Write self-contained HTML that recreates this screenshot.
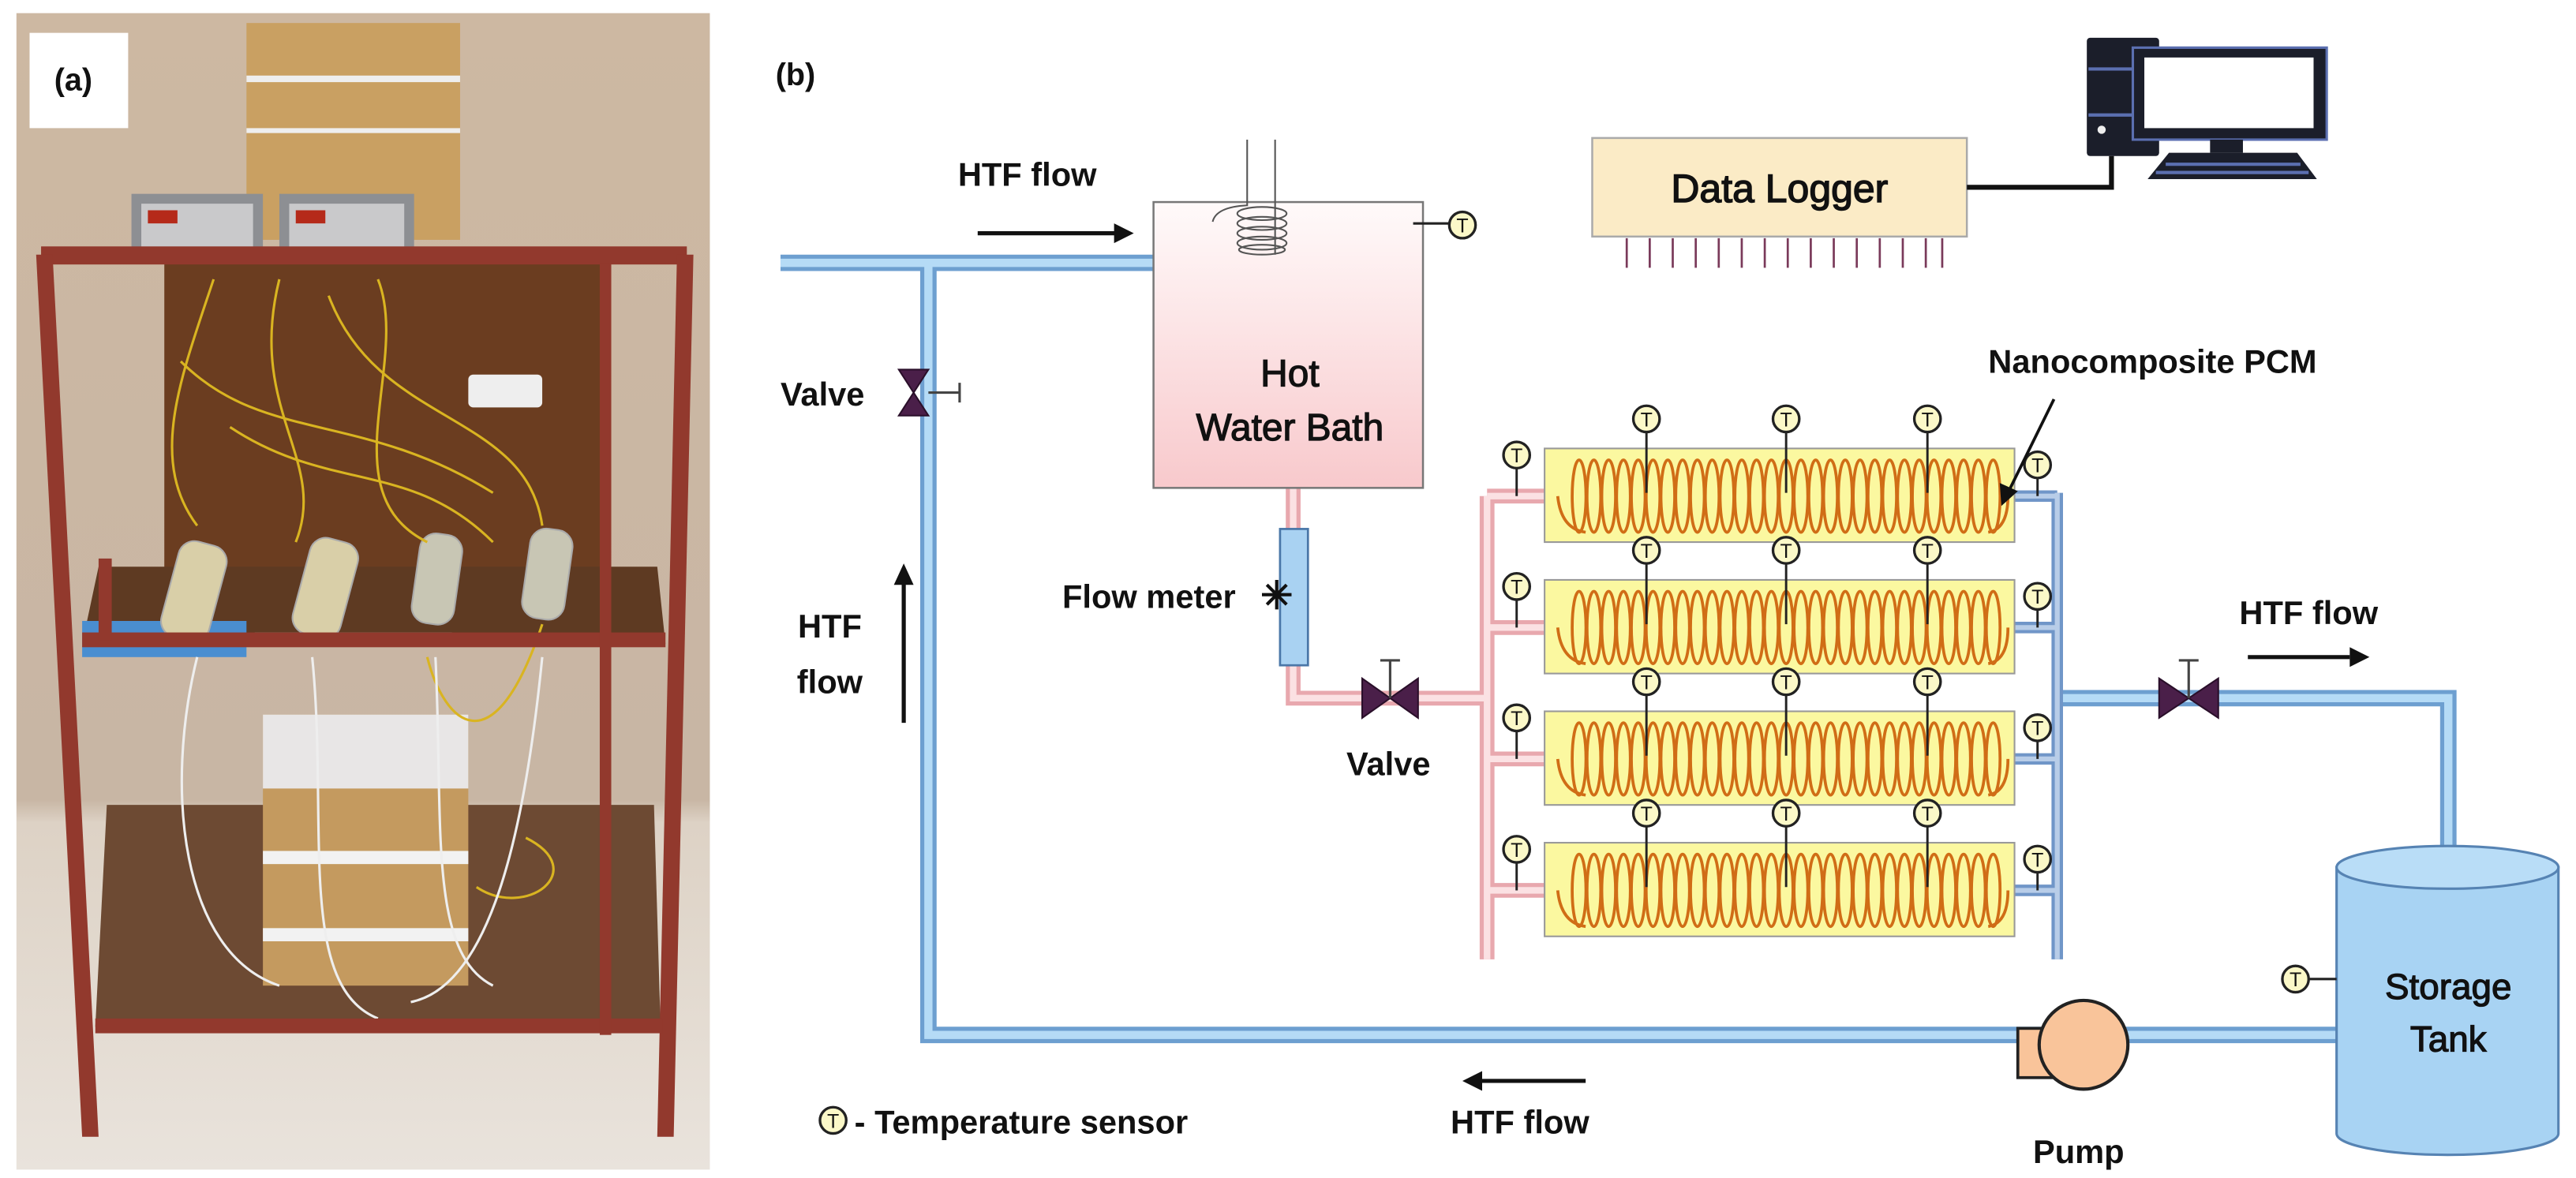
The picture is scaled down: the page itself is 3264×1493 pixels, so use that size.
<!DOCTYPE html>
<html><head><meta charset="utf-8"><style>
html,body{margin:0;padding:0;background:#fff;}
svg{display:block;}
text{font-family:"Liberation Sans",Arial,sans-serif;font-weight:bold;fill:#111;}
</style></head><body>
<svg width="3264" height="1493" viewBox="0 0 1567.7 717.1" preserveAspectRatio="none" xmlns="http://www.w3.org/2000/svg">
<defs>
<linearGradient id="bath" x1="0" y1="0" x2="0" y2="1"><stop offset="0" stop-color="#fffafa"/><stop offset="1" stop-color="#f8c9cc"/></linearGradient>
<linearGradient id="wall" x1="0" y1="0" x2="0" y2="1"><stop offset="0" stop-color="#cdb8a2"/><stop offset="0.68" stop-color="#c8b6a4"/><stop offset="0.7" stop-color="#ddd2c5"/><stop offset="1" stop-color="#e9e3dc"/></linearGradient>
<g id="T"><circle r="8" fill="#fbf8c8" stroke="#222" stroke-width="1.6"/><text x="0" y="4.5" font-size="12" text-anchor="middle" style="font-weight:normal">T</text></g>
</defs>

<!-- PANEL A: photo -->
<rect x="10" y="8" width="422" height="704" fill="url(#wall)"/>
<rect x="100" y="160" width="270" height="190" fill="#6b3d20"/>
<polygon points="60,345 400,345 405,392 50,392" fill="#5e3a22"/>
<polygon points="65,490 398,490 402,625 58,625" fill="#6d4a33"/>
<rect x="150" y="14" width="130" height="132" fill="#c9a062"/>
<rect x="150" y="46" width="130" height="4" fill="#eee"/>
<rect x="150" y="78" width="130" height="3" fill="#eee"/>
<rect x="80" y="118" width="80" height="42" fill="#8d8f93"/><rect x="86" y="124" width="68" height="30" fill="#c9c9cb"/><rect x="90" y="128" width="18" height="8" fill="#b52a1a"/>
<rect x="170" y="118" width="82" height="42" fill="#8d8f93"/><rect x="176" y="124" width="70" height="30" fill="#c9c9cb"/><rect x="180" y="128" width="18" height="8" fill="#b52a1a"/>
<rect x="285" y="228" width="45" height="20" fill="#eee" rx="3"/>
<rect x="160" y="435" width="125" height="165" fill="#c49a5f"/>
<rect x="160" y="435" width="125" height="45" fill="#e8e6e6"/>
<rect x="160" y="518" width="125" height="8" fill="#f2f2f2"/>
<rect x="160" y="565" width="125" height="8" fill="#f2f2f2"/>
<rect x="50" y="378" width="100" height="22" fill="#4a8ed0"/>
<rect x="155" y="385" width="120" height="8" fill="#eee"/>
<g fill="#d9cfa8" stroke="#aaa">
<rect x="103" y="330" width="30" height="60" rx="10" transform="rotate(15 118 360)"/>
<rect x="183" y="328" width="30" height="60" rx="10" transform="rotate(15 198 358)"/>
<rect x="253" y="325" width="26" height="55" rx="10" transform="rotate(8 266 352)" fill="#c8c6b4"/>
<rect x="320" y="322" width="26" height="55" rx="10" transform="rotate(8 333 350)" fill="#c8c6b4"/>
</g>
<g fill="none" stroke="#d9b421" stroke-width="1.5">
<path d="M130 170 C110 230 90 280 120 320"/><path d="M170 170 C150 250 200 280 180 330"/><path d="M230 170 C250 220 200 300 260 330"/>
<path d="M110 220 C160 270 220 250 300 300"/><path d="M200 180 C230 260 320 250 330 320"/><path d="M260 400 C270 440 300 470 330 380"/>
<path d="M140 260 C200 300 250 280 300 330"/><path d="M290 540 C320 560 360 530 320 510"/>
</g>
<g fill="none" stroke="#eee" stroke-width="1.5">
<path d="M120 400 C100 480 110 580 170 600"/><path d="M190 400 C200 500 180 600 230 620"/><path d="M265 400 C270 500 260 580 300 600"/><path d="M330 400 C320 500 300 600 250 610"/>
</g>
<g fill="#92392d">
<rect x="25" y="150" width="393" height="11"/>
<polygon points="22,155 32,155 60,692 50,692"/>
<polygon points="412,155 422,155 410,692 400,692"/>
<rect x="50" y="385" width="355" height="9"/>
<rect x="58" y="620" width="345" height="9"/>
<rect x="60" y="340" width="8" height="50"/><rect x="365" y="160" width="7" height="470"/>
</g>
<rect x="18" y="20" width="60" height="58" fill="#fff"/>
<text x="33" y="55" font-size="19">(a)</text>

<!-- PANEL B -->
<text x="472" y="52" font-size="19">(b)</text>

<g fill="none" stroke-linejoin="miter">
<path d="M475 160 H702 M565 160 V630 H1422 M1252 425 H1490 V518" stroke="#6d9fd0" stroke-width="10"/>
<path d="M475 160 H702 M565 160 V630 H1422 M1252 425 H1490 V518" stroke="#b5dbf6" stroke-width="5"/>
<path d="M1252 300 V584 M1222 302 H1252 M1222 382 H1252 M1222 462 H1252 M1222 542 H1252" stroke="#7096c8" stroke-width="7"/>
<path d="M1252 300 V584 M1222 302 H1252 M1222 382 H1252 M1222 462 H1252 M1222 542 H1252" stroke="#b8cde8" stroke-width="3"/>
<path d="M787 297 V322 M787 405 V425 H905 M905 302 V584 M905 302 H945 M905 382 H945 M905 462 H945 M905 542 H945" stroke="#e8a8ae" stroke-width="9"/>
<path d="M787 297 V322 M787 405 V425 H905 M905 302 V584 M905 302 H945 M905 382 H945 M905 462 H945 M905 542 H945" stroke="#fbe1e3" stroke-width="4"/>
</g>

<g fill="#4a1f49" stroke="#2a0f2a" stroke-width="1">
<polygon points="547,225 565,225 547,253 565,253"/>
<polygon points="829,413 829,437 863,413 863,437"/>
<polygon points="1314,413 1314,437 1350,413 1350,437"/>
</g>
<path d="M565 239 H584 M584 233 V245" stroke="#444" stroke-width="1.5"/>
<path d="M846 425 V402 M840 402 H852" stroke="#444" stroke-width="1.5"/>
<path d="M1332 425 V402 M1326 402 H1338" stroke="#444" stroke-width="1.5"/>

<text x="583" y="113" font-size="20">HTF flow</text>
<path d="M595 142 H680" stroke="#111" stroke-width="2.5"/><polygon points="690,142 678,136 678,148" fill="#111"/>
<text x="475" y="247" font-size="20">Valve</text>
<path d="M550 440 V355" stroke="#111" stroke-width="2.5"/><polygon points="550,343 544,356 556,356" fill="#111"/>
<text x="505" y="388" font-size="20" text-anchor="middle">HTF</text>
<text x="505" y="422" font-size="20" text-anchor="middle">flow</text>

<rect x="702" y="123" width="164" height="174" fill="url(#bath)" stroke="#777" stroke-width="1.2"/>
<g fill="none" stroke="#555" stroke-width="1">
<path d="M759 85 V125 Q740 126 738 135"/>
<path d="M776 85 V155"/>
<ellipse cx="768" cy="130" rx="15" ry="4"/><ellipse cx="768" cy="136" rx="15" ry="4"/><ellipse cx="768" cy="142" rx="15" ry="4"/><ellipse cx="768" cy="148" rx="15" ry="4"/><ellipse cx="768" cy="152" rx="14" ry="3"/>
</g>
<text x="785" y="235" font-size="23" text-anchor="middle" style="font-weight:normal;stroke:#111;stroke-width:0.6">Hot</text>
<text x="785" y="268" font-size="23" text-anchor="middle" style="font-weight:normal;stroke:#111;stroke-width:0.6">Water Bath</text>
<path d="M860 136 H882" stroke="#222" stroke-width="1.5"/><use href="#T" x="890" y="137"/>

<rect x="779" y="322" width="17" height="83" fill="#a9d2f2" stroke="#4a77a8" stroke-width="1.3"/>
<g stroke="#111" stroke-width="2"><path d="M768 362 H786 M777 353 V371 M771 356 L783 368 M783 356 L771 368"/></g>
<text x="752" y="370" font-size="20" text-anchor="end">Flow meter</text>
<text x="845" y="472" font-size="20" text-anchor="middle">Valve</text>

<rect x="969" y="84" width="228" height="60" fill="#fbebc6" stroke="#aaa" stroke-width="1.2"/>
<text x="1083" y="123" font-size="24" text-anchor="middle" style="font-weight:normal;stroke:#111;stroke-width:0.7">Data Logger</text>
<g stroke="#7a3a5a" stroke-width="1.3">
<path d="M990 145V163M1004 145V163M1018 145V163M1032 145V163M1046 145V163M1060 145V163M1074 145V163M1088 145V163M1102 145V163M1116 145V163M1130 145V163M1144 145V163M1158 145V163M1172 145V163M1182 145V163"/>
</g>
<path d="M1197 114 H1285 V95" fill="none" stroke="#111" stroke-width="3"/>
<rect x="1270" y="23" width="44" height="72" fill="#1b1e2a" rx="2"/>
<path d="M1271 42 H1300 M1271 70 H1300" stroke="#5b6fb0" stroke-width="2"/>
<circle cx="1279" cy="79" r="2.5" fill="#eee"/>
<rect x="1298" y="29" width="118" height="56" fill="#1b1e2a" stroke="#5b6fb0" stroke-width="1.5"/>
<rect x="1305" y="35" width="103" height="43" fill="#fff"/>
<rect x="1345" y="85" width="20" height="8" fill="#1b1e2a"/>
<polygon points="1320,93 1398,93 1410,109 1307,109" fill="#1b1e2a"/>
<path d="M1318 100 H1400 M1312 105 H1405" stroke="#5b6fb0" stroke-width="2"/>

<rect x="940" y="273" width="286" height="57" fill="#fbf8a0" stroke="#999" stroke-width="1"/>
<rect x="940" y="353" width="286" height="57" fill="#fbf8a0" stroke="#999" stroke-width="1"/>
<rect x="940" y="433" width="286" height="57" fill="#fbf8a0" stroke="#999" stroke-width="1"/>
<rect x="940" y="513" width="286" height="57" fill="#fbf8a0" stroke="#999" stroke-width="1"/>

<g id="c1" fill="none" stroke="#d06d16" stroke-width="1.8">
<path d="M948 302 Q950 322 965 324 M1210 324 Q1222 322 1222 302"/>
<ellipse cx="961" cy="302" rx="4.2" ry="22"/><ellipse cx="970" cy="302" rx="4.2" ry="22"/><ellipse cx="979" cy="302" rx="4.2" ry="22"/><ellipse cx="988" cy="302" rx="4.2" ry="22"/><ellipse cx="997" cy="302" rx="4.2" ry="22"/><ellipse cx="1006" cy="302" rx="4.2" ry="22"/><ellipse cx="1015" cy="302" rx="4.2" ry="22"/><ellipse cx="1024" cy="302" rx="4.2" ry="22"/><ellipse cx="1033" cy="302" rx="4.2" ry="22"/><ellipse cx="1042" cy="302" rx="4.2" ry="22"/><ellipse cx="1051" cy="302" rx="4.2" ry="22"/><ellipse cx="1060" cy="302" rx="4.2" ry="22"/><ellipse cx="1069" cy="302" rx="4.2" ry="22"/><ellipse cx="1078" cy="302" rx="4.2" ry="22"/><ellipse cx="1087" cy="302" rx="4.2" ry="22"/><ellipse cx="1096" cy="302" rx="4.2" ry="22"/><ellipse cx="1105" cy="302" rx="4.2" ry="22"/><ellipse cx="1114" cy="302" rx="4.2" ry="22"/><ellipse cx="1123" cy="302" rx="4.2" ry="22"/><ellipse cx="1132" cy="302" rx="4.2" ry="22"/><ellipse cx="1141" cy="302" rx="4.2" ry="22"/><ellipse cx="1150" cy="302" rx="4.2" ry="22"/><ellipse cx="1159" cy="302" rx="4.2" ry="22"/><ellipse cx="1168" cy="302" rx="4.2" ry="22"/><ellipse cx="1177" cy="302" rx="4.2" ry="22"/><ellipse cx="1186" cy="302" rx="4.2" ry="22"/><ellipse cx="1195" cy="302" rx="4.2" ry="22"/><ellipse cx="1204" cy="302" rx="4.2" ry="22"/><ellipse cx="1213" cy="302" rx="4.2" ry="22"/>
</g>
<use href="#c1" y="80"/><use href="#c1" y="160"/><use href="#c1" y="240"/>

<g id="srow">
<path d="M1002 263 V300 M1087 263 V300 M1173 263 V300 M923 285 V302 M1240 291 V302" stroke="#222" stroke-width="1.4"/>
<use href="#T" x="1002" y="255"/><use href="#T" x="1087" y="255"/><use href="#T" x="1173" y="255"/>
<use href="#T" x="923" y="277"/><use href="#T" x="1240" y="283"/>
</g>
<use href="#srow" y="80"/><use href="#srow" y="160"/><use href="#srow" y="240"/>

<text x="1310" y="227" font-size="20" text-anchor="middle">Nanocomposite PCM</text>
<path d="M1250 243 L1222 300" stroke="#111" stroke-width="1.8"/><polygon points="1218,308 1217,294 1228,299" fill="#111"/>

<text x="1405" y="380" font-size="20" text-anchor="middle">HTF flow</text>
<path d="M1368 400 H1430" stroke="#111" stroke-width="2.5"/><polygon points="1442,400 1430,394 1430,406" fill="#111"/>

<path d="M1422 528 V690 A67.5 13 0 0 0 1557 690 V528 Z" fill="#a8d3f3" stroke="#5683b3" stroke-width="1.5"/>
<ellipse cx="1489.5" cy="528" rx="67.5" ry="13" fill="#b9ddf7" stroke="#5683b3" stroke-width="1.5"/>
<text x="1490" y="608" font-size="22" text-anchor="middle" style="font-weight:normal;stroke:#111;stroke-width:0.6">Storage</text>
<text x="1490" y="640" font-size="22" text-anchor="middle" style="font-weight:normal;stroke:#111;stroke-width:0.6">Tank</text>
<path d="M1405 596 H1422" stroke="#222" stroke-width="1.5"/><use href="#T" x="1397" y="596"/>

<rect x="1228" y="626" width="40" height="30" fill="#f9c49a" stroke="#222" stroke-width="1.8"/>
<circle cx="1268" cy="636" r="27" fill="#f9c49a" stroke="#222" stroke-width="2"/>
<text x="1265" y="708" font-size="20" text-anchor="middle">Pump</text>

<path d="M965 658 H902" stroke="#111" stroke-width="2.5"/><polygon points="890,658 902,652 902,664" fill="#111"/>
<text x="925" y="690" font-size="20" text-anchor="middle">HTF flow</text>

<use href="#T" x="507" y="682"/>
<text x="520" y="690" font-size="20">- Temperature sensor</text>
</svg>
</body></html>
